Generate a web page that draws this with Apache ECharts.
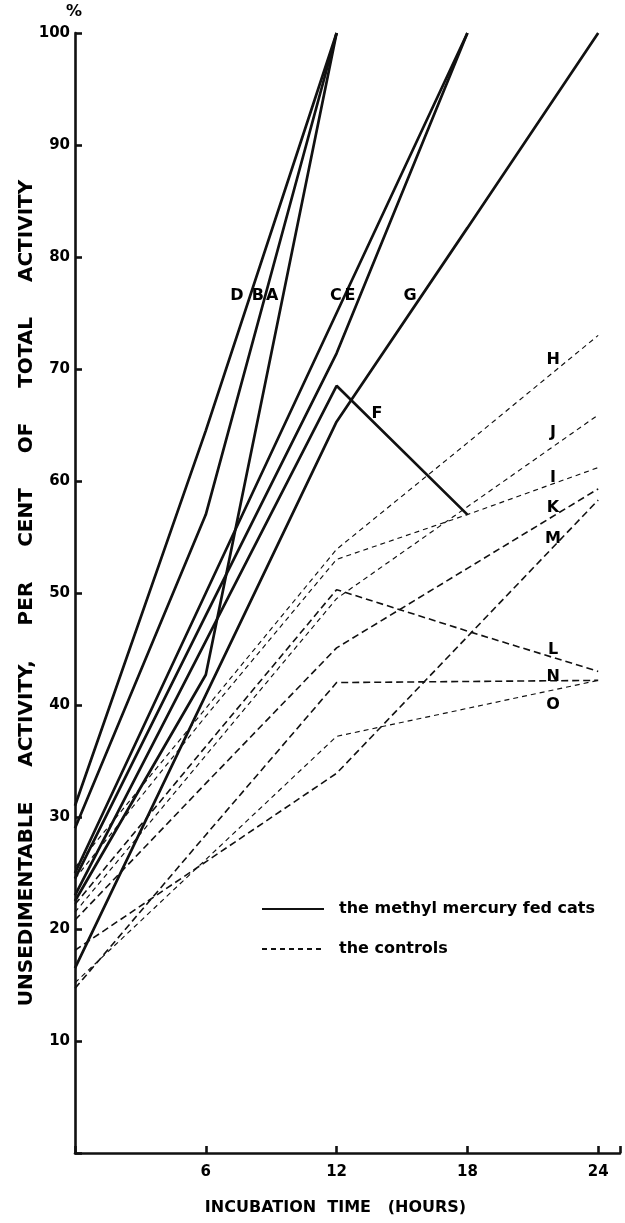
<!DOCTYPE html>
<html>
<head>
<meta charset="utf-8">
<script src="https://cdn.jsdelivr.net/npm/echarts@6/dist/echarts.min.js"></script>
<style>
html,body{margin:0;padding:0;background:#fff;}
#c{width:625px;height:1223px;}
</style>
</head>
<body>
<div id="c"></div>
<script>
// incubation time points (hours)
const hours = [0, 6, 12, 18, 24];
const xTicks = [6, 12, 18, 24];
const yTicks = [10, 20, 30, 40, 50, 60, 70, 80, 90, 100];

// methyl mercury fed cats (solid lines), per cent at hours[i]
const catA = [22.5, 42.7, 100];
const catB = [29, 57, 100];
const catC = [25, 50, 75, 100];
const catD = [31, 64.5, 100];
const catE = [24.5, 48, 71.4, 100];
const catF = [23, 45.7, 68.5, 57];
const catG = [16.5, 40.9, 65.3, 82.6, 100];

// controls (dashed lines)
const ctlH = [25.5, 39.7, 53.9, 63.4, 73];
const ctlI = [24.5, 39, 53, 57, 61.2];
const ctlJ = [21.5, 35.5, 49.5, 57.7, 65.9];
const ctlK = [20.8, 33, 45.1, 52.2, 59.3];
const ctlL = [22.2, 36.3, 50.3, 46.6, 43];
const ctlM = [18.1, 26, 33.9, 46.1, 58.3];
const ctlN = [14.7, 28.4, 42, 42.1, 42.2];
const ctlO = [15.2, 26.2, 37.2, 39.7, 42.2];

// curve letter labels: [hours, percent, letter]
const letterLabels = [
  [7.43, 76.5, 'D'], [8.39, 76.5, 'B'], [9.04, 76.5, 'A'],
  [11.97, 76.5, 'C'], [12.61, 76.5, 'E'], [15.37, 76.5, 'G'],
  [13.85, 66.0, 'F'],
  [21.93, 70.8, 'H'], [21.93, 64.3, 'J'], [21.93, 60.3, 'I'],
  [21.93, 57.6, 'K'], [21.93, 54.8, 'M'], [21.93, 44.9, 'L'],
  [21.93, 42.5, 'N'], [21.93, 40.0, 'O']
];

const solidName = 'the methyl mercury fed cats';
const dashName = 'the controls';
const FONT = 'DejaVu Sans';
const INK = '#111111';

function pts(vals) { return vals.map((v, i) => [hours[i], v]); }

const solidSets = [catA, catB, catC, catD, catE, catF, catG];
const dashSets = [ctlH, ctlI, ctlJ, ctlK, ctlL, ctlM, ctlN, ctlO];
// dash weight per control curve (H I J K L M N O)
const dashHeavy = [false, false, false, true, true, true, true, false];

const series = [];
solidSets.forEach(s => series.push({
  type: 'line', name: solidName, data: pts(s), symbol: 'none', z: 3,
  lineStyle: { color: INK, width: 2.7, type: 'solid' }, itemStyle: { color: INK }
}));
dashSets.forEach((s, i) => series.push({
  type: 'line', name: dashName, data: pts(s), symbol: 'none', z: 2,
  lineStyle: { color: INK, width: dashHeavy[i] ? 1.6 : 1.15, type: dashHeavy[i] ? [7, 4] : [5, 4] },
  itemStyle: { color: INK }
}));
series.push({
  type: 'scatter', name: 'letters', symbolSize: 0, z: 5,
  itemStyle: { opacity: 1, color: '#000' },
  data: letterLabels.map(l => ({ value: [l[0], l[1]], name: l[2] })),
  label: { show: true, position: 'inside', formatter: p => p.name,
    fontFamily: FONT, fontWeight: 'bold', fontSize: 16, color: '#000', opacity: 1 },
  silent: true
});

const chart = echarts.init(document.getElementById('c'), null, { renderer: 'canvas' });
chart.setOption({
  animation: false,
  backgroundColor: '#ffffff',
  grid: { left: 75, right: 5, top: 33, bottom: 70, containLabel: false },
  legend: {
    data: [solidName, dashName], orient: 'vertical', left: 256, top: 896,
    itemWidth: 62, itemHeight: 16, itemGap: 24,
    itemStyle: { opacity: 0 },
    textStyle: { fontFamily: FONT, fontWeight: 'bold', fontSize: 16, color: '#000', padding: [0, 0, 0, 10] },
    selectedMode: false
  },
  xAxis: {
    type: 'value', min: 0, max: 25, interval: 6,
    name: 'INCUBATION  TIME   (HOURS)', nameLocation: 'middle', nameGap: 47,
    nameTextStyle: { fontFamily: FONT, fontWeight: 'bold', fontSize: 16, color: '#000', padding: [0, 24, 0, 0] },
    axisLine: { show: true, lineStyle: { color: INK, width: 2.6 } },
    axisTick: { show: true, inside: true, length: 7, lineStyle: { color: INK, width: 2.6 } },
    axisLabel: { fontFamily: FONT, fontWeight: 'bold', fontSize: 15, color: '#000', margin: 12,
      formatter: v => (xTicks.indexOf(v) >= 0 ? String(v) : '') },
    splitLine: { show: false }
  },
  yAxis: {
    type: 'value', min: 0, max: 100, interval: 10,
    name: 'UNSEDIMENTABLE     ACTIVITY,     PER     CENT     OF     TOTAL     ACTIVITY',
    nameLocation: 'middle', nameGap: 38, nameRotate: 90, nameMoveOverlap: false,
    nameTextStyle: { fontFamily: FONT, fontWeight: 'bold', fontSize: 20, color: '#000' },
    axisLine: { show: true, lineStyle: { color: INK, width: 2.6 } },
    axisTick: { show: true, inside: true, length: 7, lineStyle: { color: INK, width: 2.6 } },
    axisLabel: { fontFamily: FONT, fontWeight: 'bold', fontSize: 15, color: '#000', margin: 5,
      formatter: v => (yTicks.indexOf(v) >= 0 ? String(v) : '') },
    splitLine: { show: false }
  },
  graphic: [{
    type: 'text', left: 66, top: 4,
    style: { text: '%', font: 'bold 16px "DejaVu Sans"', fill: '#000' }
  }],
  series: series
});
</script>
</body>
</html>
